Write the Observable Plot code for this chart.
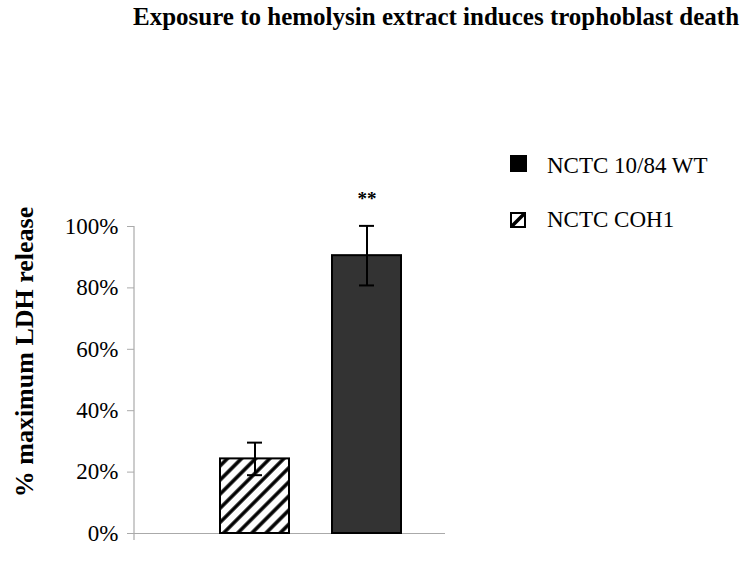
<!DOCTYPE html>
<html>
<head>
<meta charset="utf-8">
<script src="https://cdn.jsdelivr.net/npm/d3@7"></script>
<script src="https://cdn.jsdelivr.net/npm/@observablehq/plot@0.6"></script>
<style>
  html, body { margin: 0; padding: 0; background: white; }
  #wrap { position: relative; width: 753px; height: 562px; font-family: "Liberation Serif", "Times New Roman", serif; color: black; }
  #wrap svg.plot { position: absolute; left: 0; top: 0; }
  .abs { position: absolute; white-space: nowrap; line-height: 1; }
  .title { font-weight: bold; font-size: 25px; }
  .ylab { font-weight: bold; font-size: 26px; transform: translate(-50%, -50%) rotate(-90deg); }
  .leg { font-size: 23px; }
</style>
</head>
<body>
<div id="wrap">
  <div class="abs title" style="left:133px; top:4px;">Exposure to hemolysin extract induces trophoblast death</div>
  <div class="abs ylab" style="left:25px; top:352px;">% maximum LDH release</div>
  <div class="abs" style="left:510px; top:155px;"><svg width="18" height="18"><rect x="0" y="0" width="17" height="17" fill="black"/></svg></div>
  <div class="abs leg" style="left:547px; top:154px;">NCTC 10/84 WT</div>
  <div class="abs" style="left:510px; top:212px;"><svg width="17" height="17"><rect x="1" y="1" width="14" height="14" fill="white" stroke="black" stroke-width="2"/><line x1="2" y1="14" x2="14" y2="2" stroke="black" stroke-width="3.5"/></svg></div>
  <div class="abs leg" style="left:547px; top:208px;">NCTC COH1</div>
</div>
<script>
const categories = ["NCTC COH1", "NCTC 10/84 WT"];
const means = [0.243, 0.905];
const errors = [0.053, 0.097];
const significance = ["", "**"];
const yTicks = [0, 0.2, 0.4, 0.6, 0.8, 1.0];

const rows = categories.map((cat, i) => ({cat, mean: means[i], err: errors[i], sig: significance[i]}));

const plot = Plot.plot({
  width: 753,
  height: 562,
  marginLeft: 134,
  marginRight: 308,
  marginTop: 226,
  marginBottom: 29,
  style: {fontFamily: "'Liberation Serif', 'Times New Roman', serif", background: "transparent"},
  x: {domain: categories, range: [219, 402], paddingInner: 0.38, paddingOuter: 0, axis: null},
  y: {domain: [0, 1], axis: null},
  color: {domain: categories, range: ["url(#hatch)", "#333333"]},
  marks: [
    Plot.ruleY([0], {stroke: "#aaa", strokeWidth: 1.2}),
    Plot.axisY({ticks: yTicks, tickFormat: d3.format(".0%"), tickSize: 7, tickPadding: 9, fontSize: 23, stroke: "#aaa", fill: "black", label: null}),
    Plot.barY(rows, {x: "cat", y: "mean", fill: "cat", stroke: "black", strokeWidth: 2}),
    Plot.ruleX(rows, {x: "cat", y1: d => d.mean - d.err, y2: d => d.mean + d.err, stroke: "black", strokeWidth: 2}),
    Plot.tickY(rows, {x: "cat", y: d => d.mean - d.err, inset: 27, stroke: "black", strokeWidth: 2}),
    Plot.tickY(rows, {x: "cat", y: d => d.mean + d.err, inset: 27, stroke: "black", strokeWidth: 2}),
    Plot.text(rows, {x: "cat", y: d => d.mean + d.err, text: "sig", dy: -27, fontSize: 19, fontWeight: "bold", fill: "black"})
  ]
});

// hatch pattern definition
const svg = d3.select(plot);
const defs = svg.insert("defs", ":first-child");
const pat = defs.append("pattern")
  .attr("id", "hatch")
  .attr("patternUnits", "userSpaceOnUse")
  .attr("width", 10).attr("height", 10)
  .attr("patternTransform", "rotate(45)");
pat.append("rect").attr("width", 10).attr("height", 10).attr("fill", "white");
pat.append("line").attr("x1", 5).attr("x2", 5).attr("y1", -1).attr("y2", 11).attr("stroke", "black").attr("stroke-width", 3.5);

// vertical axis line using the y scale
const ys = plot.scale("y");
svg.append("line")
  .attr("x1", 134).attr("x2", 134)
  .attr("y1", ys.apply(1)).attr("y2", ys.apply(0) + 7)
  .attr("stroke", "#aaa").attr("stroke-width", 1.2);

plot.classList.add("plot");
document.getElementById("wrap").prepend(plot);
</script>
</body>
</html>
